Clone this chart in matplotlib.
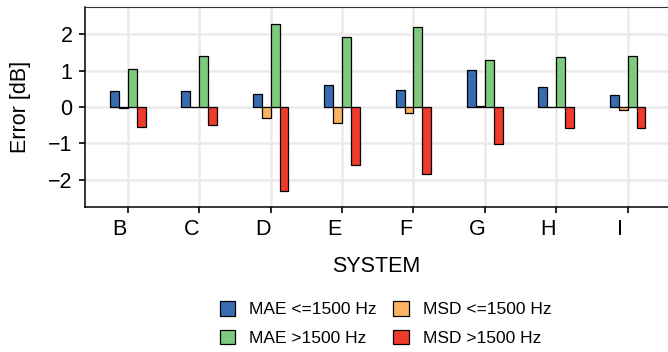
import numpy as np
import matplotlib.pyplot as plt
import matplotlib.transforms as mtransforms

plt.rcParams['font.family'] = ['Liberation Sans', 'DejaVu Sans']

systems = ['B', 'C', 'D', 'E', 'F', 'G', 'H', 'I']
mae_lo = [0.45, 0.44, 0.36, 0.59, 0.46, 1.02, 0.54, 0.34]
msd_lo = [-0.03, -0.01, -0.30, -0.44, -0.17, 0.02, 0.01, -0.09]
mae_hi = [1.05, 1.39, 2.27, 1.91, 2.18, 1.28, 1.37, 1.41]
msd_hi = [-0.54, -0.48, -2.29, -1.58, -1.83, -1.01, -0.57, -0.57]
labels = ['MAE <=1500 Hz', 'MSD <=1500 Hz', 'MAE >1500 Hz', 'MSD >1500 Hz']
colors = ['#386CB0', '#FDB462', '#7FC97F', '#EF3B2C']

fig = plt.figure(figsize=(6.68, 3.52), dpi=100)
ax = fig.add_axes([85/668, 1 - 207/352, 1 - 85/668, 200/352])

ind = np.arange(1, len(systems) + 1)
width = 0.125
series = [mae_lo, msd_lo, mae_hi, msd_hi]
bars = []
for i, vals in enumerate(series):
    b = ax.bar(ind + (i - 1.5) * width, vals, width, color=colors[i],
               edgecolor='black', linewidth=0.9, label=labels[i], zorder=3)
    bars.append(b)

ax.set_xlim(0.4, 0.4 + 583/71.4)
ax.set_ylim(-2.74, 2.74)
ax.set_xticks(ind)
ax.set_xticklabels(systems)
ax.set_yticks([-2, -1, 0, 1, 2])
ax.set_yticklabels(['\u22122', '\u22121', '0', '1', '2'])
ax.grid(True, color='#EBEBEB', linewidth=1.8, zorder=0)
ax.set_axisbelow(True)
ax.tick_params(labelsize=15.5, length=4.5, width=1.2, colors='black', pad=4.5)
ax.spines['right'].set_visible(False)
ax.spines['top'].set_color('#333333')
for s in ['left', 'bottom']:
    ax.spines[s].set_linewidth(1.1)
ax.set_xlabel('SYSTEM', fontsize=15.5, labelpad=11)
ax.set_ylabel('Error [dB]', fontsize=15.5, labelpad=12)

# the reference has its category labels sitting a little left of the ticks
shift = mtransforms.ScaledTranslation(-8/100, 0, fig.dpi_scale_trans)
for lab in ax.get_xticklabels():
    lab.set_transform(lab.get_transform() + shift)

handles = [bars[0], bars[2], bars[1], bars[3]]
leg_labels = [labels[0], labels[2], labels[1], labels[3]]
fig.legend(handles, leg_labels, ncol=2, loc='center', bbox_to_anchor=(0.577, 0.081),
           frameon=False, fontsize=12.5, handlelength=0.9, handleheight=0.9,
           columnspacing=0.95, handletextpad=0.8, labelspacing=0.7)

fig.savefig('out.png', dpi=100)
